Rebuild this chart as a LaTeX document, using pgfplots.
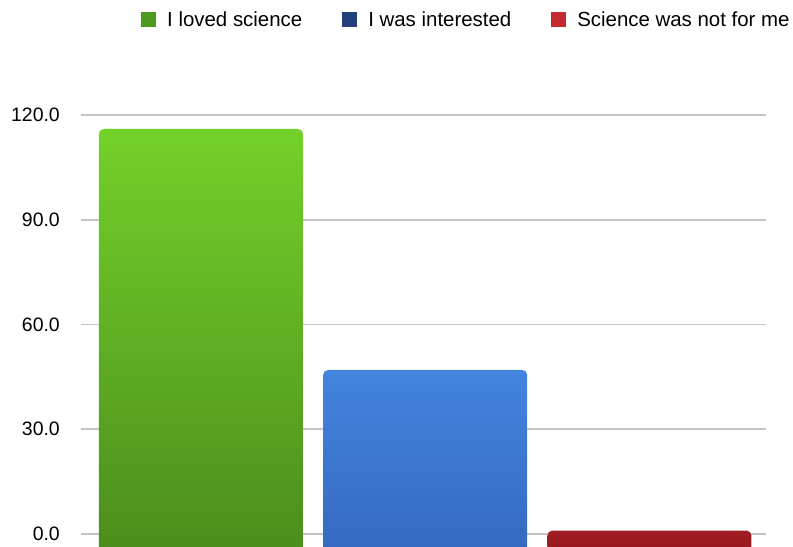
\documentclass[border=0pt]{standalone}
\usepackage{fontspec}
\setmainfont{Liberation Sans}
\usepackage{pgfplots}
\pgfplotsset{compat=1.18}
\definecolor{gtop}{HTML}{74D12A}
\definecolor{gbot}{HTML}{4A8A1C}
\definecolor{btop}{HTML}{4384DE}
\definecolor{bbot}{HTML}{3467BD}
\definecolor{rtop}{HTML}{A01C22}
\definecolor{rbot}{HTML}{8E181D}
\definecolor{lgreen}{HTML}{4C9A1E}
\definecolor{lblue}{HTML}{23407C}
\definecolor{lred}{HTML}{C32A32}
\definecolor{gridc}{HTML}{C4C4C4}
\begin{document}
\begin{tikzpicture}
\begin{axis}[
  at={(81bp,0bp)}, anchor=south west,
  scale only axis, width=685bp, height=432bp,
  xmin=-0.535, xmax=2.52,
  ymin=-3.7, ymax=120,
  ytick={0,30,60,90,120},
  /pgf/number format/fixed,
  /pgf/number format/fixed zerofill,
  /pgf/number format/precision=1,
  /pgf/number format/assume math mode=true,
  yticklabel style={font=\fontsize{19.5}{22}\selectfont, anchor=east, inner sep=0pt, xshift=-21bp},
  major tick length=0pt,
  xtick=\empty,
  ymajorgrids,
  grid style={gridc, line width=1.8bp},
  axis line style={draw=none},
  legend columns=3,
  legend style={at={(0.0876,1.2199)}, anchor=west, draw=none, fill=none, inner sep=0pt,
    font=\fontsize{20.5}{23}\selectfont,
    nodes={inner sep=0pt, anchor=west},
    /tikz/every odd column/.append style={column sep=11bp},
    /tikz/every even column/.append style={column sep=40bp}},
  legend image code/.code={\fill[#1, draw=none] (0bp,-7.5bp) rectangle (15bp,7.5bp);},
]
\addplot[draw=none, top color=gtop, bottom color=gbot, rounded corners=5bp, forget plot]
  coordinates {(-0.455,-10) (-0.455,116) (0.455,116) (0.455,-10)};
\addplot[draw=none, top color=btop, bottom color=bbot, rounded corners=5bp, forget plot]
  coordinates {(0.545,-10) (0.545,47) (1.455,47) (1.455,-10)};
\addplot[draw=none, top color=rtop, bottom color=rbot, rounded corners=5bp, forget plot]
  coordinates {(1.545,-10) (1.545,1) (2.455,1) (2.455,-10)};
\addlegendimage{fill=lgreen, draw=none}
\addlegendentry{I loved science}
\addlegendimage{fill=lblue, draw=none}
\addlegendentry{I was interested}
\addlegendimage{fill=lred, draw=none}
\addlegendentry{Science was not for me}
\end{axis}
\pgfresetboundingbox
\useasboundingbox (0,0) rectangle (793bp,547bp);
\end{tikzpicture}
\end{document}
